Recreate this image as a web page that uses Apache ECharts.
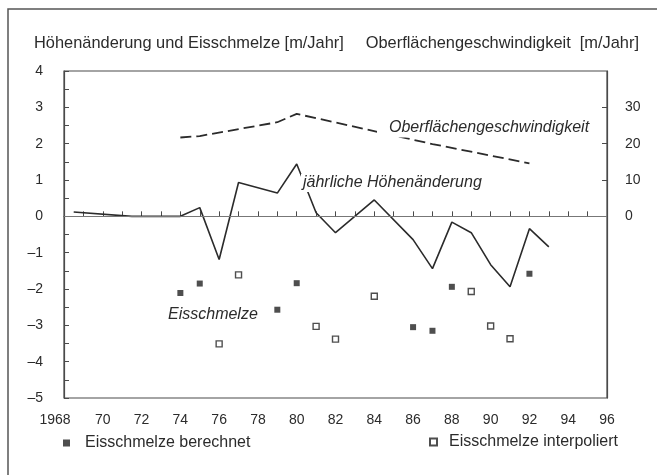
<!DOCTYPE html>
<html>
<head>
<meta charset="utf-8">
<script src="https://cdn.jsdelivr.net/npm/echarts@6.0.0/dist/echarts.min.js"></script>
<style>
	html, body { margin: 0; padding: 0; background: #fff; }
	#chart { width: 657px; height: 475px; }
</style>
</head>
<body>
<div id="chart"></div>
<script>
// jährliche Höhenänderung (m/Jahr), linke Achse
const hoeheJahre = [1968.5, 1971.5, 1974, 1975, 1976, 1977, 1979, 1980, 1981, 1982, 1984, 1986, 1987, 1988, 1989, 1990, 1991, 1992, 1993]
const hoeheWerte = [0.12, 0, 0, 0.24, -1.19, 0.93, 0.64, 1.44, 0.1, -0.45, 0.45, -0.64, -1.44, -0.16, -0.45, -1.33, -1.94, -0.34, -0.84]
// Oberflächengeschwindigkeit (m/Jahr), rechte Achse
const geschwJahre = [1974, 1975, 1979, 1980, 1987, 1992]
const geschwWerte = [21.7, 22.1, 25.9, 28.2, 19.9, 14.6]
// Eisschmelze berechnet
const berechnetJahre = [1974, 1975, 1979, 1980, 1986, 1987, 1988, 1992]
const berechnetWerte = [-2.11, -1.85, -2.57, -1.84, -3.05, -3.15, -1.94, -1.58]
// Eisschmelze interpoliert
const interpoliertJahre = [1976, 1977, 1981, 1982, 1984, 1989, 1990, 1991]
const interpoliertWerte = [-3.51, -1.61, -3.03, -3.38, -2.2, -2.07, -3.02, -3.37]
// Achsenbeschriftung rechts
const rechtsTicks = [0, 10, 20, 30]

const paare = (xs, ys) => xs.map((x, i) => [x, ys[i]])

const FONT = '"Liberation Sans", Arial, Helvetica, sans-serif'
const INK = '#2b2b2b'
const AXIS = '#4a4a4a'

const chart = echarts.init(document.getElementById('chart'))

const option = {
	animation: false,
	backgroundColor: '#fff',
	textStyle: { fontFamily: FONT },
	grid: {
		left: 64,
		right: 50,
		top: 71,
		bottom: 77,
		show: true,
		borderColor: AXIS,
		borderWidth: 1.2,
		containLabel: false,
		outerBoundsMode: 'none'
	},
	legend: [
		{
			data: ['Eisschmelze berechnet'],
			left: 63,
			top: 435,
			padding: 0,
			icon: 'rect',
			itemWidth: 7,
			itemHeight: 7,
			textStyle: { fontSize: 16, color: INK, fontFamily: FONT, padding: [0, 0, 0, 10] }
		},
		{
			data: ['Eisschmelze interpoliert'],
			left: 429,
			top: 434,
			padding: 0,
			icon: 'rect',
			itemWidth: 7,
			itemHeight: 7,
			textStyle: { fontSize: 16, color: INK, fontFamily: FONT, padding: [0, 0, 0, 7] }
		}
	],
	xAxis: {
		type: 'value',
		min: 1968,
		max: 1996,
		interval: 2,
		axisLine: { show: true, lineStyle: { color: AXIS, width: 1.2 } },
		axisTick: { show: true, inside: true, length: 5, lineStyle: { color: AXIS } },
		minorTick: { show: true, splitNumber: 2, length: 5, lineStyle: { color: AXIS } },
		splitLine: { show: false },
		axisLabel: {
			margin: 15,
			fontSize: 14,
			color: INK,
			fontFamily: FONT,
			rich: {
				erst: { fontSize: 14, color: INK, fontFamily: FONT, padding: [0, 18, 0, 0] }
			},
			formatter: function(value) {
				return value === 1968 ? '{erst|1968}' : String(value).slice(2)
			}
		}
	},
	yAxis: [
		{
			type: 'value',
			min: -5,
			max: 4,
			interval: 1,
			axisLine: { show: true, lineStyle: { color: AXIS, width: 1.2 } },
			axisTick: { show: true, inside: true, length: 5, lineStyle: { color: AXIS } },
			minorTick: { show: true, splitNumber: 2, length: 5, lineStyle: { color: AXIS } },
			splitLine: { show: false },
			axisLabel: {
				margin: 21,
				fontSize: 14,
				color: INK,
				fontFamily: FONT,
				formatter: function(value) {
					return String(value).replace('-', '\u2013')
				}
			}
		},
		{
			type: 'value',
			position: 'right',
			min: -50,
			max: 40,
			interval: 10,
			axisLine: { show: true, lineStyle: { color: AXIS, width: 1.2 } },
			axisTick: { show: true, inside: true, length: 5, customValues: rechtsTicks, lineStyle: { color: AXIS } },
			splitLine: { show: false },
			axisLabel: {
				margin: 18,
				fontSize: 14,
				color: INK,
				fontFamily: FONT,
				customValues: rechtsTicks
			}
		}
	],
	series: [
		{
			name: 'jährliche Höhenänderung',
			type: 'line',
			yAxisIndex: 0,
			symbol: 'none',
			lineStyle: { color: INK, width: 1.6 },
			data: paare(hoeheJahre, hoeheWerte),
			markLine: {
				silent: true,
				symbol: 'none',
				label: { show: false },
				lineStyle: { color: '#777', width: 1, type: 'solid' },
				data: [{ yAxis: 0 }]
			}
		},
		{
			name: 'Oberflächengeschwindigkeit',
			type: 'line',
			yAxisIndex: 1,
			symbol: 'none',
			lineStyle: { color: INK, width: 1.8, type: [11, 5] },
			data: paare(geschwJahre, geschwWerte)
		},
		{
			name: 'Eisschmelze berechnet',
			type: 'scatter',
			yAxisIndex: 0,
			symbol: 'rect',
			symbolSize: 6,
			itemStyle: { color: '#222' },
			data: paare(berechnetJahre, berechnetWerte)
		},
		{
			name: 'Eisschmelze interpoliert',
			type: 'scatter',
			yAxisIndex: 0,
			symbol: 'rect',
			symbolSize: 6,
			itemStyle: { color: '#fff', borderColor: '#222', borderWidth: 1.4 },
			data: paare(interpoliertJahre, interpoliertWerte)
		}
	],
	graphic: [
		{
			type: 'rect',
			z: 0,
			silent: true,
			shape: { x: 8, y: 9, width: 700, height: 520 },
			style: { fill: 'none', stroke: '#555', lineWidth: 1.5 }
		},
		{
			type: 'text',
			x: 34,
			y: 43,
			style: { text: 'Höhenänderung und Eisschmelze [m/Jahr]', font: '16.4px ' + FONT, fill: INK, verticalAlign: 'middle' }
		},
		{
			type: 'text',
			x: 639,
			y: 43,
			style: { text: 'Oberflächengeschwindigkeit  [m/Jahr]', font: '16.4px ' + FONT, fill: INK, align: 'right', verticalAlign: 'middle' }
		},
		{
			type: 'text',
			z: 10,
			x: 377,
			y: 128,
			style: {
				text: 'Oberflächengeschwindigkeit',
				font: 'italic 16px ' + FONT,
				fill: INK,
				verticalAlign: 'middle',
				backgroundColor: '#fff',
				padding: [0, 2, 3, 12]
			}
		},
		{
			type: 'text',
			z: 10,
			x: 301,
			y: 183,
			style: {
				text: 'jährliche Höhenänderung',
				font: 'italic 16px ' + FONT,
				fill: INK,
				verticalAlign: 'middle',
				backgroundColor: '#fff',
				padding: [1, 2, 1, 2]
			}
		},
		{
			type: 'text',
			z: 10,
			x: 168,
			y: 315,
			style: { text: 'Eisschmelze', font: 'italic 16px ' + FONT, fill: INK, verticalAlign: 'middle' }
		}
	]
}

chart.setOption(option)
</script>
</body>
</html>
